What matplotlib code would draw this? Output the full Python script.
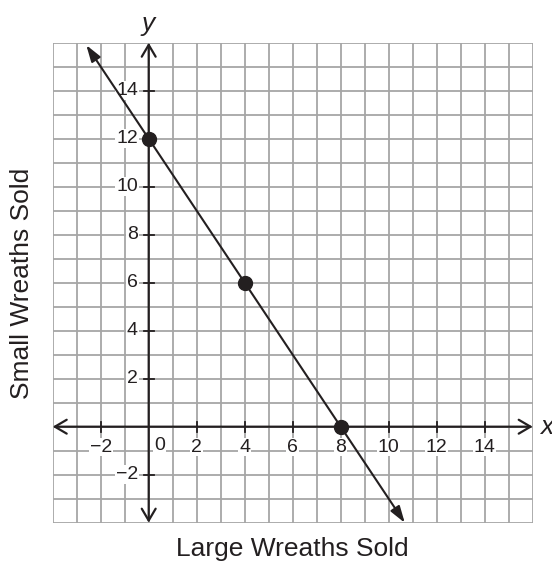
import numpy as np
import matplotlib
matplotlib.use("Agg")
import matplotlib.pyplot as plt

plt.rcParams['font.family'] = ['Liberation Sans', 'DejaVu Sans']

# data
point_x = [0, 4, 8]
point_y = [12, 6, 0]
line_x_ends = [-2.6, 10.67]   # where the drawn line stops (arrow tips)
x_ticks = [-2, 2, 4, 6, 8, 10, 12, 14]
y_ticks = [-2, 2, 4, 6, 8, 10, 12, 14]
x_range = [-4, 16]
y_range = [-4, 16]

slope, intercept = np.polyfit(point_x, point_y, 1)
line_y_ends = [slope * v + intercept for v in line_x_ends]

fig = plt.figure(figsize=(5.52, 5.63), dpi=100)
ax = fig.add_axes([52.7 / 552, 40.3 / 563, 480 / 552, 480 / 563])
ax.set_xlim(x_range)
ax.set_ylim(y_range)

# grid of unit squares
for v in range(x_range[0], x_range[1] + 1):
    ax.axvline(v, color='#a6a6a6', lw=1.3, zorder=1)
for v in range(y_range[0], y_range[1] + 1):
    ax.axhline(v, color='#a6a6a6', lw=1.3, zorder=1)

for s in ax.spines.values():
    s.set_visible(False)
ax.set_xticks([])
ax.set_yticks([])

# axes with open arrow heads at both ends
axis_arrow = dict(arrowstyle='<->,head_length=0.85,head_width=0.5', lw=1.6,
                  color='#231f20', mutation_scale=10, shrinkA=0, shrinkB=0)
ax.annotate('', xy=(x_range[1], 0), xytext=(x_range[0], 0),
            arrowprops=axis_arrow, zorder=3)
ax.annotate('', xy=(0, y_range[1]), xytext=(0, y_range[0]),
            arrowprops=axis_arrow, zorder=3)

# tick marks and labels
for t in x_ticks:
    ax.plot([t, t], [-0.2, 0.2], color='#231f20', lw=1.3, zorder=3)
    lab = str(t).replace('-', '\u2212')
    ax.text(t, -0.5, lab, ha='center', va='top', fontsize=14, color='#231f20',
            bbox=dict(fc='white', ec='none', pad=0.5), zorder=4)
for t in y_ticks:
    ax.plot([-0.2, 0.2], [t, t], color='#231f20', lw=1.3, zorder=3)
    lab = str(t).replace('-', '\u2212')
    ax.text(-0.45, t, lab, ha='right', va='center', fontsize=14, color='#231f20',
            bbox=dict(fc='white', ec='none', pad=0.5), zorder=4)
ax.text(0.45, -0.45, '0', ha='center', va='top', fontsize=14, color='#231f20',
        bbox=dict(fc='white', ec='none', pad=0.5), zorder=4)

# the line through the points, arrows at both ends
line_arrow = dict(arrowstyle='<|-|>,head_length=1.0,head_width=0.32', lw=1.5,
                  color='#231f20', mutation_scale=10, shrinkA=0, shrinkB=0)
ax.annotate('', xy=(line_x_ends[1], line_y_ends[1]),
            xytext=(line_x_ends[0], line_y_ends[0]),
            arrowprops=line_arrow, zorder=5, annotation_clip=False)
ax.plot(point_x, point_y, 'o', color='#231f20', markersize=10, zorder=6)

# axis names
fig.text(546.7 / 552, 1 - 426.7 / 563, 'x', ha='center', va='center',
         fontsize=19, style='italic', color='#231f20')
fig.text(148 / 552, 1 - 24 / 563, 'y', ha='center', va='center',
         fontsize=19, style='italic', color='#231f20')
fig.text(292.7 / 552, 1 - 549 / 563, 'Large Wreaths Sold', ha='center',
         va='center', fontsize=19, color='#231f20')
fig.text(22 / 552, 1 - 283 / 563, 'Small Wreaths Sold', ha='center',
         va='center', fontsize=19, rotation=90, color='#231f20')

fig.savefig('out.png', dpi=100)
